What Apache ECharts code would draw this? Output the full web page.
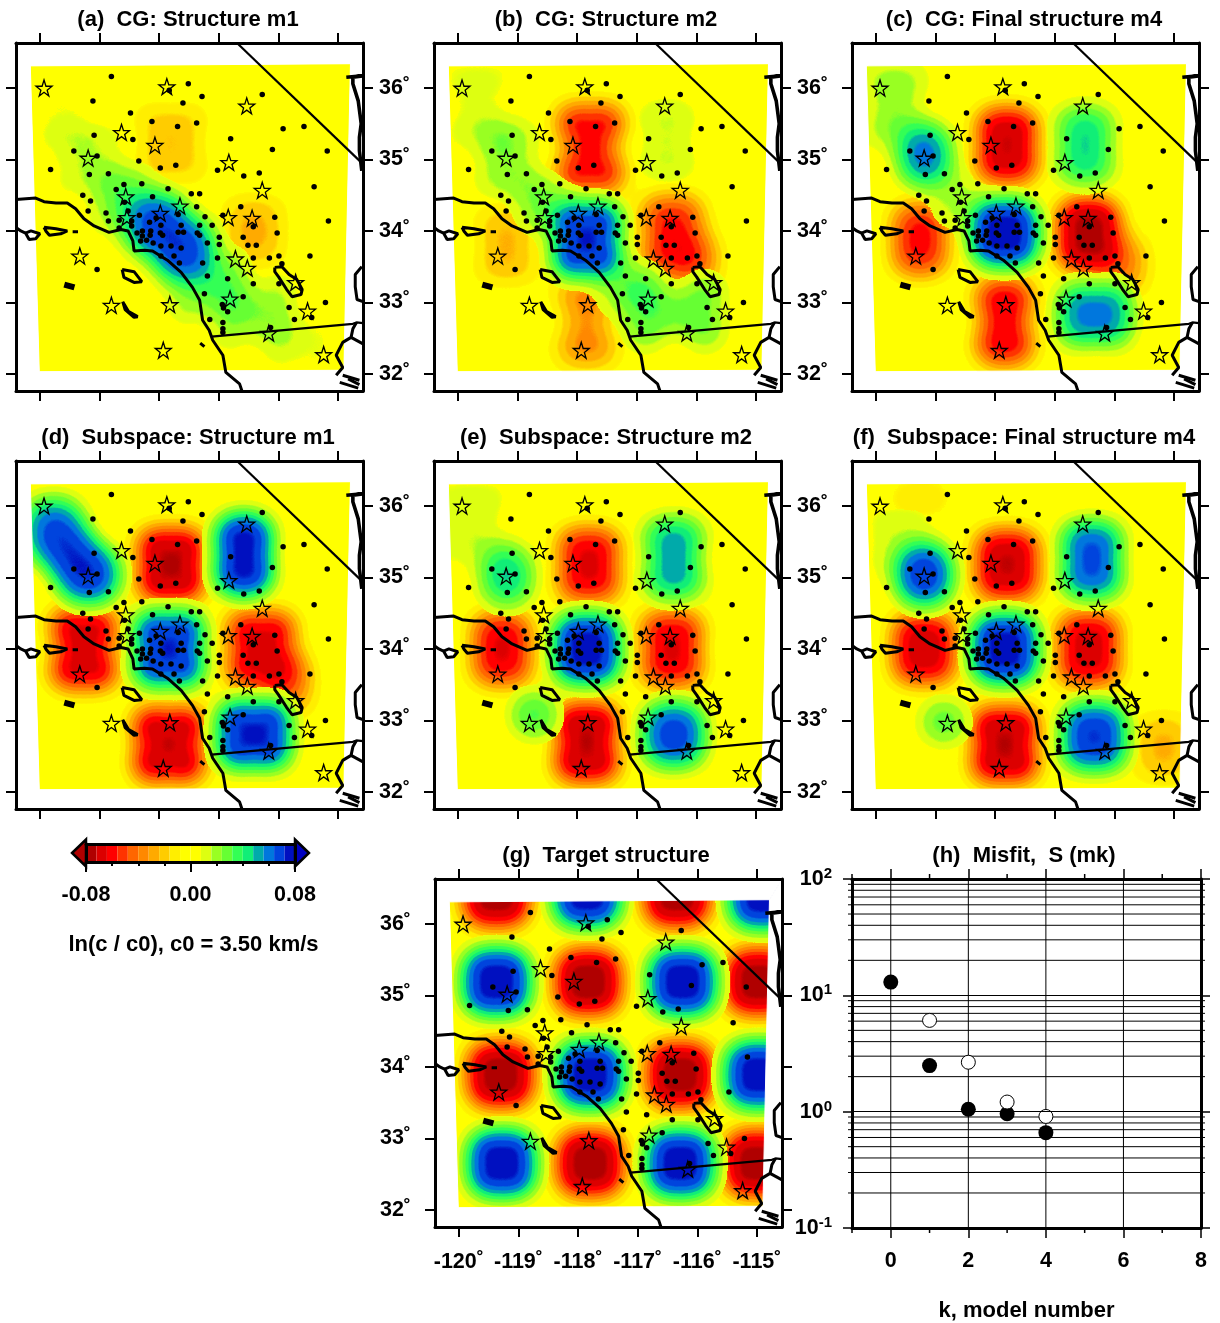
<!DOCTYPE html>
<html>
<head>
<meta charset="utf-8">
<style>html,body{margin:0;padding:0;background:#fff}#c{width:1220px;height:1323px}</style>
<script src="https://cdn.jsdelivr.net/npm/echarts@6/dist/echarts.min.js"></script>
</head>
<body>
<div id="c"></div>
<script>
// ---------- tick labels and axis extents ----------
const lonTicks = [-120, -119, -118, -117, -116, -115];
const latTicks = [32, 33, 34, 35, 36];
const lonRange = [-120.40, -114.58];
const latRange = [31.76, 36.63];
const fieldCorners = [[-120.16, 36.31], [-114.79, 36.34], [-114.90, 32.05], [-120.01, 32.03]];
const frameCorners = [[-120.40, 36.63], [-114.58, 36.63], [-114.58, 31.76], [-120.40, 31.76]];

// ---------- stars [lon, lat] ----------
const stars = [[-119.93,36.00],[-117.87,36.02],[-116.53,35.75],[-118.63,35.38],[-118.07,35.20],[-119.19,35.02],[-116.83,34.96],[-116.27,34.57],[-118.56,34.48],[-117.65,34.35],[-117.98,34.25],[-118.54,34.19],[-116.84,34.19],[-116.44,34.18],[-119.33,33.65],[-116.72,33.61],[-116.52,33.48],[-115.71,33.28],[-116.81,33.05],[-118.80,32.96],[-117.82,32.97],[-115.51,32.88],[-116.16,32.57],[-117.93,32.33],[-115.24,32.27]];

// ---------- stations [lon, lat] ----------
const stations = [[-118.80,36.16],[-117.51,36.06],[-117.83,35.97],[-117.28,35.88],[-116.27,35.91],[-119.11,35.82],[-117.60,35.79],[-118.48,35.65],[-118.12,35.53],[-117.69,35.46],[-117.37,35.51],[-115.57,35.46],[-115.92,35.43],[-119.09,35.34],[-118.44,35.28],[-116.80,35.29],[-119.43,35.12],[-119.04,35.05],[-116.10,35.14],[-115.18,35.12],[-118.34,34.98],[-117.98,34.88],[-117.72,34.92],[-119.82,34.86],[-119.17,34.79],[-118.85,34.80],[-117.02,34.85],[-116.58,34.77],[-116.32,34.81],[-118.59,34.65],[-118.29,34.66],[-118.72,34.58],[-117.85,34.59],[-115.40,34.62],[-117.46,34.52],[-117.32,34.52],[-119.28,34.50],[-118.11,34.48],[-119.15,34.42],[-118.58,34.40],[-119.19,34.28],[-116.63,34.34],[-117.37,34.34],[-118.89,34.25],[-118.52,34.28],[-118.33,34.22],[-117.23,34.20],[-116.93,34.22],[-116.06,34.19],[-118.85,34.14],[-118.67,34.15],[-118.46,34.14],[-118.05,34.18],[-117.68,34.23],[-115.16,34.14],[-117.11,34.08],[-116.42,34.06],[-117.97,34.08],[-117.63,34.08],[-117.32,34.08],[-118.46,34.07],[-118.67,34.04],[-118.16,34.12],[-118.28,34.00],[-118.37,33.97],[-118.14,34.00],[-118.15,33.94],[-117.98,33.97],[-117.94,33.94],[-117.68,33.98],[-117.59,33.98],[-117.36,33.97],[-117.32,33.94],[-116.02,33.97],[-116.99,33.91],[-116.59,33.91],[-118.28,33.93],[-118.31,33.86],[-118.21,33.87],[-118.10,33.83],[-117.19,33.83],[-116.99,33.81],[-116.51,33.80],[-116.37,33.80],[-117.97,33.79],[-117.80,33.79],[-117.63,33.76],[-117.97,33.65],[-117.75,33.65],[-117.02,33.62],[-116.42,33.62],[-116.15,33.62],[-115.99,33.65],[-115.47,33.65],[-117.66,33.55],[-117.27,33.55],[-115.94,33.54],[-119.04,33.46],[-117.19,33.37],[-116.85,33.33],[-116.42,33.26],[-115.99,33.26],[-117.24,33.12],[-116.59,33.08],[-115.21,33.00],[-116.94,32.97],[-116.92,32.92],[-116.85,32.87],[-115.82,32.93],[-117.15,32.76],[-115.73,32.76],[-115.44,32.79],[-116.93,32.72],[-116.13,32.65],[-116.93,32.63],[-116.93,32.58]];

// ---------- coast, borders, islands [lon, lat] ----------
const coastMain = [[-120.40,34.44],[-120.07,34.46],[-119.93,34.41],[-119.73,34.39],[-119.54,34.39],[-119.40,34.31],[-119.26,34.17],[-119.09,34.07],[-118.84,33.98],[-118.64,34.02],[-118.52,34.00],[-118.44,33.86],[-118.42,33.72],[-118.25,33.73],[-118.11,33.72],[-117.86,33.59],[-117.63,33.42],[-117.44,33.21],[-117.32,33.03],[-117.27,32.75],[-117.16,32.61],[-117.10,32.47],[-116.93,32.26],[-116.88,32.02],[-116.65,31.86],[-116.61,31.76]];
const borderMexico = [[-117.12,32.52],[-114.75,32.70],[-114.69,32.72],[-114.58,32.71]];
const borderNevada = [[-116.68,36.62],[-114.61,34.96]];
const riverTop = [[-114.86,36.15],[-114.59,36.17],[-114.75,36.15],[-114.75,36.06],[-114.66,35.82],[-114.61,35.50],[-114.64,35.31],[-114.64,35.12],[-114.60,34.84]];
const riverLow = [[-114.60,33.50],[-114.71,33.39],[-114.71,33.22],[-114.68,33.04],[-114.58,33.01]];
const bajaEast = [[-114.69,32.72],[-114.75,32.63],[-114.78,32.51],[-114.92,32.44],[-115.03,32.26],[-114.92,32.09],[-115.03,31.98]];
const bajaStub = [[-114.78,32.51],[-114.58,32.42]];
const bajaIslesA = [[-114.92,31.98],[-114.64,31.91]];
const bajaIslesB = [[-114.97,31.88],[-114.66,31.80]];
const bajaIslesC = [[-114.83,31.93],[-114.64,31.85]];
const saltonSea = [[-116.06,33.49],[-115.94,33.50],[-115.82,33.39],[-115.69,33.32],[-115.60,33.18],[-115.62,33.11],[-115.77,33.08],[-115.86,33.18],[-115.99,33.35],[-116.06,33.43],[-116.06,33.49]];
const isleMiguel = [[-120.40,34.05],[-120.32,34.00],[-120.24,33.97],[-120.15,34.00],[-120.00,33.96],[-120.07,33.89],[-120.18,33.88],[-120.24,33.97]];
const isleCruz = [[-119.93,34.05],[-119.73,34.03],[-119.54,34.00],[-119.65,33.96],[-119.84,33.94],[-119.90,34.00],[-119.93,34.05]];
const isleAnacapa = [[-119.45,33.99],[-119.36,33.99]];
const isleCatalina = [[-118.62,33.46],[-118.42,33.43],[-118.29,33.29],[-118.42,33.28],[-118.59,33.35],[-118.62,33.46]];
const isleNicolas = [[-119.59,33.25],[-119.42,33.21]];
const isleClemente = [[-118.61,33.01],[-118.51,32.87],[-118.36,32.80],[-118.42,32.79],[-118.57,32.90],[-118.61,33.01]];
const isleCoronado = [[-117.31,32.43],[-117.24,32.38]];
const allLines = [coastMain,borderMexico,borderNevada,riverTop,riverLow,bajaEast,bajaStub,bajaIslesA,bajaIslesB,bajaIslesC,saltonSea,isleMiguel,isleCruz,isleAnacapa,isleCatalina,isleNicolas,isleClemente,isleCoronado];

// ---------- anomaly features read per panel: [lon, lat, ln(c/c0), half-width lon, half-width lat] ----------
const fieldA = [[-118.04,34.09,0.05,0.2,0.18],[-117.58,33.74,0.05,0.2,0.18],[-118.59,34.44,0.018,0.25,0.25],[-119.18,35.00,0.011,0.3,0.3],[-119.68,35.62,0.006,0.3,0.35],[-117.16,33.25,0.022,0.35,0.25],[-116.41,32.87,0.018,0.4,0.25],[-115.65,32.41,0.007,0.4,0.25],
  [-117.80,35.23,-0.018,0.3,0.3],[-116.41,34.00,-0.017,0.25,0.25],[-117.84,32.69,-0.005,0.3,0.3]];
const fieldB = [[-117.84,33.88,0.08,0.25,0.25],[-119.18,35.02,0.016,0.25,0.3],[-119.68,35.76,0.01,0.3,0.4],[-118.59,34.37,0.012,0.2,0.2],[-116.49,35.27,0.012,0.25,0.35],[-116.36,32.87,0.03,0.5,0.25],[-117.16,33.18,0.012,0.25,0.2],
  [-117.78,35.16,-0.065,0.25,0.35],[-116.41,33.95,-0.05,0.22,0.28],[-116.07,33.60,-0.02,0.2,0.2],[-119.18,33.80,-0.018,0.25,0.3],[-117.84,32.73,-0.03,0.22,0.38]];
const fieldC = [[-117.84,33.97,0.09,0.22,0.18],[-119.18,35.06,0.035,0.15,0.17],[-119.68,35.76,0.018,0.25,0.35],[-118.67,34.44,0.008,0.2,0.2],[-116.49,35.20,0.035,0.2,0.28],[-116.33,32.83,0.05,0.3,0.18],
  [-117.80,35.20,-0.07,0.2,0.25],[-119.26,33.88,-0.045,0.18,0.24],[-116.43,33.95,-0.08,0.2,0.22],[-115.91,33.53,-0.02,0.2,0.2],[-117.84,32.73,-0.06,0.18,0.33]];
const fieldD = [[-117.84,34.00,0.1,0.26,0.25],[-119.18,35.04,0.05,0.18,0.13],[-119.77,35.66,0.045,0.18,0.18],[-119.48,35.35,0.03,0.13,0.13],[-116.58,35.32,0.08,0.15,0.27],[-116.41,32.80,0.09,0.28,0.2],
  [-117.80,35.18,-0.08,0.24,0.24],[-119.26,34.00,-0.075,0.24,0.3],[-116.29,34.00,-0.07,0.26,0.26],[-115.91,33.53,-0.025,0.2,0.2],[-117.84,32.66,-0.09,0.28,0.26]];
const fieldE = [[-117.84,34.00,0.085,0.22,0.2],[-119.18,35.02,0.025,0.16,0.18],[-119.77,35.76,0.012,0.3,0.35],[-116.38,35.27,0.045,0.2,0.3],[-116.38,32.80,0.055,0.2,0.18],[-118.72,33.08,0.012,0.12,0.1],[-115.20,34.06,0.006,0.3,0.4],
  [-117.80,35.18,-0.06,0.22,0.25],[-119.26,34.00,-0.055,0.2,0.24],[-116.41,34.00,-0.06,0.22,0.26],[-117.84,32.69,-0.08,0.22,0.28]];
const fieldF = [[-117.84,34.00,0.09,0.22,0.2],[-119.19,35.04,0.05,0.15,0.16],[-119.60,35.50,0.01,0.3,0.3],[-116.38,35.25,0.06,0.2,0.26],[-116.34,32.77,0.065,0.22,0.2],[-118.86,32.98,0.01,0.14,0.1],
  [-117.80,35.18,-0.07,0.22,0.22],[-119.19,34.00,-0.065,0.22,0.22],[-116.43,34.00,-0.065,0.22,0.24],[-117.84,32.66,-0.08,0.24,0.26],[-115.17,32.62,-0.016,0.25,0.25],[-119.26,36.11,-0.006,0.3,0.15]];
const fieldG = [[-119.37,36.42,-0.1,0.22,0.18],[-117.85,36.43,0.1,0.22,0.18],[-116.34,36.42,-0.1,0.22,0.18],[-114.90,36.40,0.1,0.22,0.18],
  [-119.37,35.19,0.1,0.22,0.18],[-117.83,35.19,-0.1,0.22,0.18],[-116.25,35.19,0.1,0.22,0.18],[-114.98,35.19,-0.1,0.22,0.18],
  [-119.30,33.89,-0.1,0.22,0.18],[-117.80,33.89,0.1,0.22,0.18],[-116.29,33.89,-0.1,0.22,0.18],[-114.97,33.89,0.1,0.22,0.18],
  [-119.28,32.65,0.1,0.22,0.18],[-117.80,32.65,-0.1,0.22,0.18],[-116.29,32.65,0.1,0.22,0.18],[-115.00,32.65,-0.1,0.22,0.18]];

// ---------- colour scale ----------
const barColors = ['#b00000','#dc0000','#ff0000','#ff3300','#ff6600','#ff8800','#ffaa00','#ffcc00','#ffee00','#ffff00','#ffff00','#ddff11','#99ff22','#66ff33','#33ff55','#11ee77','#00aaaa','#0077dd','#0044dd','#0010c0'];
const barEdges = [-0.08,-0.072,-0.064,-0.056,-0.048,-0.04,-0.032,-0.024,-0.016,-0.008,0,0.008,0.016,0.024,0.032,0.04,0.048,0.056,0.064,0.072,0.08];
const barTipLow = [-0.0907, -0.08];
const barTipHigh = [0.0907, 0.08];

// ---------- misfit panel ----------
const modelNumber = [0, 1, 2, 3, 4];
const misfitCG = [13.0, 2.49, 1.05, 0.96, 0.66];
const misfitSub = [null, 6.09, 2.66, 1.21, 0.91];
const kMajor = [0, 2, 4, 6, 8];
const kMinor = [-1, 1, 3, 5, 7];
const misfitMinor = [0.2,0.3,0.4,0.5,0.6,0.7,0.8,0.9,2,3,4,5,6,7,8,9,20,30,40,50,60,70,80,90];

const panels = [
  {title:'(a)  CG: Structure m1', tx:183, ty:4, x:16, y:43, f:fieldA, right:true},
  {title:'(b)  CG: Structure m2', tx:601, ty:4, x:434, y:43, f:fieldB, right:true},
  {title:'(c)  CG: Final structure m4', tx:1019, ty:4, x:852, y:43, f:fieldC},
  {title:'(d)  Subspace: Structure m1', tx:183, ty:422, x:16, y:461, f:fieldD, right:true},
  {title:'(e)  Subspace: Structure m2', tx:601, ty:422, x:434, y:461, f:fieldE, right:true},
  {title:'(f)  Subspace: Final structure m4', tx:1019, ty:422, x:852, y:461, f:fieldF},
  {title:'(g)  Target structure', tx:601, ty:840, x:435, y:879, f:fieldG, target:true}
];

const FONT = '"Liberation Sans", Arial, sans-serif';
const W = 347, H = 348;
const lblStyle = {color:'#000', fontFamily:FONT, fontWeight:'bold', fontSize:21.5};

function expand(blobs, sign){
  const out = [];
  blobs.forEach(b => {
    if (b[2]*sign <= 0) return;
    const a = Math.abs(b[2]);
    out.push([b[0],b[1],a],[b[0]-b[3],b[1]-b[4],a],[b[0]+b[3],b[1]-b[4],a],[b[0]-b[3],b[1]+b[4],a],[b[0]+b[3],b[1]+b[4],a]);
  });
  return out;
}
function stepped(list){
  const out = [];
  list.forEach(c => out.push(c,c,c));
  return out;
}

const option = {animation:false, backgroundColor:'#fff', title:[], grid:[], xAxis:[], yAxis:[], geo:[], series:[], visualMap:[]};
const negIdx = [], posIdx = [];

echarts.registerMap('field', {type:'FeatureCollection', features:[{type:'Feature', properties:{name:'field'},
  geometry:{type:'Polygon', coordinates:[fieldCorners.concat([fieldCorners[0]]).reverse()]}}]});

function frameAxis(kind, pos, gi, range, ticks, labels, fmt, margin){
  const a = {type:'value', gridIndex:gi, position:pos, min:range[0], max:range[1], z:10,
    axisLine:{show:true, onZero:false, lineStyle:{color:'#000', width:3}},
    axisTick:{show:true, inside:false, length:10, customValues:ticks, lineStyle:{color:'#000', width:2}},
    splitLine:{show:false},
    axisLabel:{show:labels, customValues:ticks, formatter:fmt, margin:margin, hideOverlap:false, showMinLabel:true, showMaxLabel:true,
      padding:kind==='yAxis'?[2,0,0,0]:0, ...lblStyle}};
  option[kind].push(a);
  return option[kind].length-1;
}

panels.forEach((p,i) => {
  const g = option.grid.length;
  option.title.push({text:p.title, left:p.tx, top:p.ty, textAlign:'center', textStyle:{...lblStyle, fontSize:22}});
  option.grid.push({left:p.x, top:p.y, width:W, height:H, outerBoundsMode:'none'});
  const deg = v => Math.round(v)+'˚';
  const xb = frameAxis('xAxis','bottom',g,lonRange,lonTicks,!!p.target,deg,24);
  frameAxis('xAxis','top',g,lonRange,lonTicks,false,deg,15);
  const yl = frameAxis('yAxis','left',g,latRange,latTicks,!!p.target,deg,24);
  frameAxis('yAxis','right',g,latRange,latTicks,!!p.right,deg,16);
  option.geo.push({map:'field', silent:true, z:1, left:p.x, top:p.y, width:W, height:H,
    boundingCoords:[[lonRange[0],latRange[1]],[lonRange[1],latRange[0]]],
    aspectScale:(W/H)/((lonRange[1]-lonRange[0])/(latRange[1]-latRange[0])),
    label:{show:false}, itemStyle:{areaColor:'#ffff00', borderWidth:0, borderColor:'#ffff00'},
    emphasis:{disabled:true}, select:{disabled:true}, tooltip:{show:false}});
  const geoIndex = option.geo.length-1;
  [[-1,negIdx],[1,posIdx]].forEach(([s,list]) => {
    list.push(option.series.length);
    option.series.push({type:'heatmap', coordinateSystem:'geo', geoIndex:geoIndex, data:expand(p.f,s),
      pointSize:20, blurSize:24, minOpacity:1, maxOpacity:1, progressive:0, z:2, silent:true});
  });
  option.series.push({type:'custom', xAxisIndex:xb, yAxisIndex:yl, z:3, silent:true, clip:false,
    data:[0,1,2,3],
    renderItem:(params,api) => {
      const k = params.dataIndex, n = (k+1)%4;
      return {type:'polygon', shape:{points:[frameCorners[k],frameCorners[n],fieldCorners[n],fieldCorners[k]].map(c=>api.coord(c))}, style:{fill:'#fff',stroke:'#fff',lineWidth:1}};
    }});
  allLines.forEach(l => option.series.push({type:'line', xAxisIndex:xb, yAxisIndex:yl, data:l, showSymbol:false, symbol:'none', z:6, silent:true, clip:true,
    lineStyle:{color:'#000', width:(l===borderMexico||l===borderNevada)?2.2:(l===isleNicolas)?6:(l===riverTop)?3.6:3}}));
  option.series.push({type:'scatter', xAxisIndex:xb, yAxisIndex:yl, data:stations, symbolSize:5.5, z:7, silent:true, itemStyle:{color:'#000',opacity:1}});
  option.series.push({type:'scatter', xAxisIndex:xb, yAxisIndex:yl, data:stars, symbolSize:16, z:8, silent:true,
    symbol:'path://M50 0 L61.8 35.3 L98.9 35.3 L69.1 57.7 L79.4 91 L50 70 L20.6 91 L30.9 57.7 L1.1 35.3 L38.2 35.3 Z',
    itemStyle:{color:'rgba(0,0,0,0)', borderColor:'#000', borderWidth:1.3, opacity:1}});
});

option.visualMap.push(
  {type:'continuous', show:false, min:0, max:0.08, seriesIndex:negIdx, inRange:{color:stepped(['rgba(255,255,0,0)'].concat(barColors.slice(0,9).reverse()))}},
  {type:'continuous', show:false, min:0, max:0.08, seriesIndex:posIdx, inRange:{color:stepped(['rgba(255,255,0,0)'].concat(barColors.slice(11)))}}
);

// ---------- colour bar ----------
const gBar = option.grid.length;
option.grid.push({left:86, top:844, width:209, height:18, outerBoundsMode:'none'});
option.xAxis.push({type:'value', gridIndex:gBar, position:'bottom', min:-0.08, max:0.08, interval:0.08, z:10,
  name:'ln(c / c0), c0 = 3.50 km/s', nameLocation:'middle', nameGap:72, nameTextStyle:{...lblStyle, fontSize:22, padding:[0,0,0,6]},
  axisLine:{show:true,onZero:false,lineStyle:{color:'#000',width:3}},
  axisTick:{show:true,length:10,lineStyle:{color:'#000',width:2}},
  minorTick:{show:true,splitNumber:4,length:4,lineStyle:{color:'#000',width:2}},
  splitLine:{show:false},
  axisLabel:{formatter:v=>v.toFixed(2), margin:22, showMinLabel:true, showMaxLabel:true, ...lblStyle}});
option.xAxis.push({type:'value', gridIndex:gBar, position:'top', min:-0.08, max:0.08, z:10,
  axisLine:{show:true,onZero:false,lineStyle:{color:'#000',width:3}}, axisTick:{show:false}, axisLabel:{show:false}, splitLine:{show:false}});
const yBarL = option.yAxis.length;
option.yAxis.push({type:'value', gridIndex:gBar, position:'left', min:0, max:1, z:10,
  axisLine:{show:true,onZero:false,lineStyle:{color:'#000',width:3}}, axisTick:{show:false}, axisLabel:{show:false}, splitLine:{show:false}});
option.yAxis.push({type:'value', gridIndex:gBar, position:'right', min:0, max:1, z:10,
  axisLine:{show:true,onZero:false,lineStyle:{color:'#000',width:3}}, axisTick:{show:false}, axisLabel:{show:false}, splitLine:{show:false}});
const xBarIdx = option.xAxis.length-2;
option.series.push({type:'custom', xAxisIndex:xBarIdx, yAxisIndex:yBarL, z:3, silent:true, clip:false,
  data:barColors.map((c,i)=>[barEdges[i],barEdges[i+1]]),
  renderItem:(params,api) => {
    const a = api.coord([api.value(0),1]), b = api.coord([api.value(1),0]);
    return {type:'rect', shape:{x:a[0],y:a[1],width:b[0]-a[0],height:b[1]-a[1]}, style:{fill:barColors[params.dataIndex]}};
  }});
option.series.push({type:'custom', xAxisIndex:xBarIdx, yAxisIndex:yBarL, z:3, silent:true, clip:false,
  data:[barTipLow,barTipHigh],
  renderItem:(params,api) => {
    const pts = [[api.value(0),0.5],[api.value(1),1.25],[api.value(1),-0.25]].map(c=>api.coord(c));
    return {type:'polygon', shape:{points:pts}, style:{fill:params.dataIndex?'#0000c0':'#b00000', stroke:'#000', lineWidth:2.5}};
  }});

// ---------- misfit panel ----------
const gM = option.grid.length;
option.title.push({text:'(h)  Misfit,  S (mk)', left:1019, top:840, textAlign:'center', textStyle:{...lblStyle, fontSize:22}});
option.grid.push({left:852, top:879, width:349, height:349, outerBoundsMode:'none'});
const baseX = {type:'value', gridIndex:gM, min:-1, max:8, z:10,
  axisLine:{show:true,onZero:false,lineStyle:{color:'#000',width:3}},
  axisTick:{show:true,length:10,customValues:kMajor,lineStyle:{color:'#000',width:1.5}},
  splitLine:{show:false}};
const xM = option.xAxis.length;
option.xAxis.push({...baseX, position:'bottom', name:'k, model number', nameLocation:'middle', nameGap:72, nameTextStyle:{...lblStyle, fontSize:22},
  axisLabel:{customValues:kMajor, margin:22, ...lblStyle}});
option.xAxis.push({...baseX, position:'top', axisLabel:{show:false}});
const baseY = {type:'log', logBase:10, gridIndex:gM, min:0.1, max:100, z:10,
  axisLine:{show:true,onZero:false,lineStyle:{color:'#000',width:3}},
  axisTick:{show:true,length:9,lineStyle:{color:'#000',width:1.5}},
  splitLine:{show:true,lineStyle:{color:'#000',width:1.2}}, minorTick:{show:false}, minorSplitLine:{show:false}};
const yM = option.yAxis.length;
option.yAxis.push({...baseY, position:'left',
  axisLabel:{margin:20, formatter:v=>'{b|10}{s|'+Math.round(Math.log10(v))+'}', rich:{b:{...lblStyle}, s:{...lblStyle, fontSize:15, padding:[0,0,10,0]}}}});
option.yAxis.push({...baseY, position:'right', axisLabel:{show:false}});
option.series.push({type:'custom', xAxisIndex:xM, yAxisIndex:yM, z:3, silent:true, clip:false,
  data:misfitMinor.map(v=>[v]),
  renderItem:(params,api) => {
    const a = api.coord([-1,api.value(0)]), b = api.coord([8,api.value(0)]);
    return {type:'line', shape:{x1:a[0]-4,y1:a[1],x2:b[0]+4,y2:b[1]}, style:{stroke:'#000',lineWidth:1}};
  }});
option.series.push({type:'custom', xAxisIndex:xM, yAxisIndex:yM, z:3, silent:true, clip:false,
  data:kMajor.map(v=>[v]),
  renderItem:(params,api) => {
    const a = api.coord([api.value(0),0.1]), b = api.coord([api.value(0),100]);
    return {type:'line', shape:{x1:a[0],y1:a[1],x2:b[0],y2:b[1]}, style:{stroke:'#000',lineWidth:1}};
  }});
option.series.push({type:'custom', xAxisIndex:xM, yAxisIndex:yM, z:3, silent:true, clip:false,
  data:kMinor.map(v=>[v]),
  renderItem:(params,api) => {
    const a = api.coord([api.value(0),0.1]), b = api.coord([api.value(0),100]);
    return {type:'group', children:[
      {type:'line', shape:{x1:a[0],y1:a[1],x2:a[0],y2:a[1]+5}, style:{stroke:'#000',lineWidth:1.5}},
      {type:'line', shape:{x1:b[0],y1:b[1],x2:b[0],y2:b[1]-5}, style:{stroke:'#000',lineWidth:1.5}}]};
  }});
option.series.push({type:'scatter', xAxisIndex:xM, yAxisIndex:yM, z:7, symbolSize:15, silent:true,
  data:modelNumber.map((k,i)=>[k,misfitCG[i]]), itemStyle:{color:'#000',opacity:1}});
option.series.push({type:'scatter', xAxisIndex:xM, yAxisIndex:yM, z:8, symbolSize:14, silent:true,
  data:modelNumber.slice(1).map(k=>[k,misfitSub[k]]), itemStyle:{color:'#fff',borderColor:'#000',borderWidth:1,opacity:1}});

const chart = echarts.init(document.getElementById('c'), null, {renderer:'canvas', width:1220, height:1323});
chart.setOption(option);
</script>
</body>
</html>
